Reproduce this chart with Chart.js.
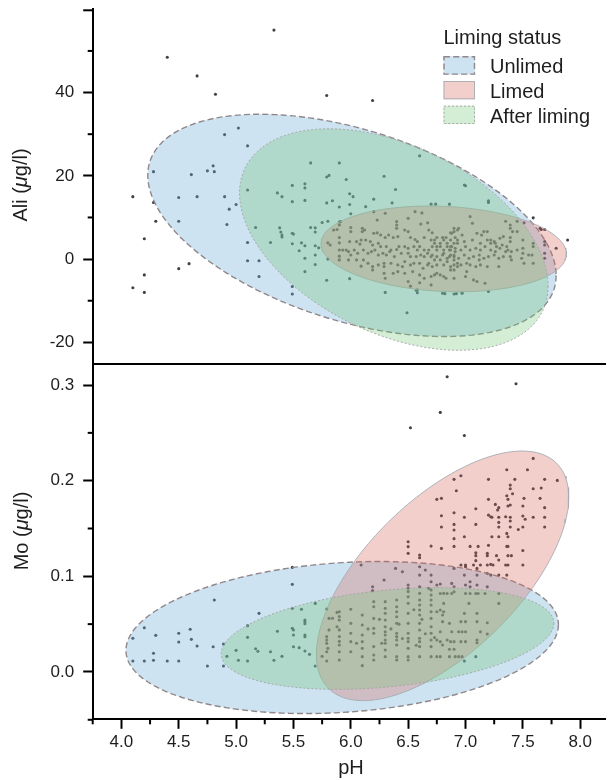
<!DOCTYPE html>
<html><head><meta charset="utf-8">
<script src="https://cdn.jsdelivr.net/npm/chart.js@4.4.1/dist/chart.umd.min.js"></script>
<style>
html,body{margin:0;padding:0;background:#fff;}
#wrap{position:relative;width:609px;height:780px;overflow:hidden;background:#fff;}
canvas{position:absolute;left:0;}
#cA{top:-16px;} #cB{top:339px;}
</style></head><body>
<div id="wrap"><canvas id="cA" width="609" height="405"></canvas><canvas id="cB" width="609" height="441"></canvas></div>
<script>
// ---------------- DATA ----------------
const groups = ['Unlimed', 'Limed', 'After liming'];
const xTicks = [4.0, 4.5, 5.0, 5.5, 6.0, 6.5, 7.0, 7.5, 8.0];
const xMinorTicks = [3.75, 4.25, 4.75, 5.25, 5.75, 6.25, 6.75, 7.25, 7.75];
const aliTicks = [-20, 0, 20, 40];
const aliMinorTicks = [-10, 10, 30, 50];
const aliEndTicks = [60];
const moTicks = [0.0, 0.1, 0.2, 0.3];
const moMinorTicks = [-0.05, 0.05, 0.15, 0.25];

// ellipse parameters: [centre pH, centre value, half-width pH, half-height value, tilt cosine]
const aliUnlimedEllipse = [6.01, 8.1, 1.78, 26.7, -0.45];
const aliLimedEllipse   = [6.81, 2.45, 1.07, 10.3, -0.12];
const aliAfterEllipse   = [6.375, 4.7, 1.345, 26.6, -0.42];
const moUnlimedEllipse  = [5.925, 0.036, 1.885, 0.0795, 0.17];
const moLimedEllipse    = [6.80, 0.1005, 1.10, 0.1305, 0.63];
const moAfterEllipse    = [6.32, 0.035, 1.45, 0.0532, 0.30];

// observations [pH, Ali]
const aliPoints = [
[5.33,55.0],[4.40,48.5],[4.66,44.0],[4.82,39.6],[5.79,39.3],[6.19,38.1],
[5.02,31.5],[4.90,29.9],[5.10,27.2],[5.65,23.1],[5.90,23.1],[6.60,24.8],
[4.80,22.4],[4.28,21.0],[4.75,21.2],[4.81,21.0],[4.61,20.3],[5.81,20.1],[5.79,19.7],[5.96,19.1],[6.29,19.9],
[4.10,15.0],[4.50,14.8],[4.66,15.0],[4.90,15.0],[5.10,16.6],[5.49,17.7],[5.60,18.1],[5.60,17.1],[5.36,15.9],[5.40,15.0],[5.49,13.8],[5.60,14.1],[5.79,13.5],[5.84,14.0],[5.90,12.5],[4.28,13.6],[4.94,12.0],[5.00,13.1],
[6.39,16.7],[7.00,17.6],[7.20,14.0],[7.20,13.6],[5.99,15.7],[6.02,15.0],[5.99,13.1],[6.13,12.6],[6.20,14.4],[6.36,13.5],[6.00,10.9],
[4.30,9.1],[4.50,9.1],[4.92,8.3],[5.17,7.6],[5.38,7.5],[5.39,6.5],[5.40,5.8],[5.40,5.3],[5.49,6.2],[5.50,6.0],[5.65,7.6],[5.69,7.5],[5.69,6.5],[5.75,8.8],[5.80,9.1],[5.90,8.9],
[4.20,4.9],[5.10,4.0],[5.30,4.0],[5.49,3.7],[5.57,3.9],[5.60,3.2],[5.55,2.0],[5.69,3.2],[5.72,2.7],[5.60,0.2],[5.69,1.0],[5.80,0.0],[5.10,-0.4],[5.20,-0.4],[5.69,-1.3],[4.50,-2.3],[4.59,-1.1],[5.20,-4.2],[5.60,-3.0],[5.79,-5.1],[4.20,-3.8],[4.10,-6.9],[4.20,-8.0],[5.49,-6.6],[5.49,-8.4],
[6.49,-12.9],[5.99,-4.7],[6.30,-8.0],[6.57,-7.5],[6.58,-8.1],[7.20,-7.8],[6.92,-8.3],[6.82,-8.3],[6.97,-8.1],
[7.59,9.9],[7.89,4.6],[7.79,2.6],[7.65,7.4],[7.66,7.1],[7.69,7.1],[7.69,4.2],[7.69,3.4],[7.69,1.4],[7.69,0.2],[7.59,3.8],[7.59,3.0],[7.51,8.7],[7.45,9.1],[6.99,17.8],
[7.00,-4.2],[7.07,-5.0],[7.10,-5.4],[7.17,-5.8],[6.90,-8.4],[6.97,-8.2],
[6.20,11.4],[6.23,9.4],[6.30,11.0],[6.50,9.8],[6.56,11.4],[6.62,11.1],[6.70,13.2],[6.74,13.2],[6.86,13.2],[6.67,8.7],[6.61,8.4],
[6.40,9.0],[6.40,8.2],[6.40,7.4],[6.10,7.4],[6.10,6.6],[6.12,7.0],[5.85,7.0],[5.88,7.1],[5.90,8.2],[5.91,9.0],[6.00,7.6],[6.00,6.6],
[6.20,6.2],[6.23,6.3],[6.26,5.8],[6.30,5.2],[6.33,5.8],[6.37,5.2],[6.41,5.4],
[6.47,7.0],[6.50,6.6],[6.52,5.2],[6.56,4.7],[6.58,4.2],[6.64,5.2],[6.68,7.0],[6.71,6.3],[6.73,4.6],[6.75,5.2],[6.80,5.2],[6.83,5.2],[6.87,6.3],[6.90,6.6],[6.91,5.2],
[5.80,3.9],[5.82,3.4],[5.90,5.2],[5.90,3.9],
[5.99,4.2],[6.05,4.2],[6.08,3.6],[6.09,4.6],[6.13,4.6],[6.17,4.2],[6.19,3.4],[6.24,3.8],[6.26,3.0],[6.31,3.0],[6.35,2.2],[6.40,2.3],[6.42,3.0],[6.47,3.0],[6.50,2.6],[6.55,3.0],[6.58,2.2],[6.60,3.0],[6.64,2.2],[6.68,2.2],[6.71,3.0],[6.75,2.2],[6.78,3.0],[6.81,2.2],[6.86,2.2],[6.88,3.0],[6.91,1.8],
[5.90,2.2],[5.93,2.2],[5.96,2.2],[5.98,1.8],[6.00,1.0],[6.03,2.2],[6.06,1.4],[6.11,2.2],[6.15,1.4],[6.18,1.8],[6.21,2.2],[6.24,1.0],[6.28,1.4],[6.31,1.0],[6.34,1.8],[6.38,0.6],[6.44,1.4],[6.50,1.4],[6.52,0.6],[6.57,0.6],[6.61,1.0],[6.64,0.6],[6.67,1.4],[6.71,1.0],[6.75,0.6],[6.80,1.0],[6.84,0.2],[6.87,1.0],[6.90,0.6],
[5.90,0.7],[5.90,-0.2],[5.98,-0.2],[6.05,-0.2],[6.11,-0.2],[6.15,-1.0],[6.19,-1.8],[6.24,-1.4],[6.29,-1.8],[6.29,-1.0],[6.35,-1.0],[6.41,-1.4],[6.45,-1.8],[6.47,-0.6],[6.52,-1.4],[6.55,-1.0],[6.60,-1.0],[6.63,-2.2],[6.68,-1.0],[6.71,-1.8],[6.75,-1.4],[6.81,-1.4],[6.87,-1.8],[6.90,-1.4],
[6.09,-1.7],[6.19,-2.6],[6.29,-3.4],[6.30,-4.6],[6.37,-3.4],[6.41,-3.0],[6.47,-3.4],[6.54,-3.0],[6.60,-3.8],[6.64,-4.6],[6.70,-4.2],[6.73,-3.8],[6.75,-3.4],[6.81,-4.2],[6.83,-4.6],[6.90,-2.6],[6.90,-4.6],
[6.50,-5.4],[6.52,-6.5],[6.58,-7.4],[6.60,-5.7],[6.70,-6.2],[6.78,-3.8],[6.80,-8.2],
[6.70,4.6],[6.73,3.8],[6.75,3.0],[6.78,3.8],[6.81,4.6],[6.84,3.8],[6.87,3.0],[6.90,3.8],[6.93,4.6],[6.70,0.6],[6.73,-0.2],[6.78,-0.2],[6.84,-0.6],[6.90,-0.2],[6.93,-1.0],[6.67,-1.4],[6.81,1.4],
[7.35,9.1],[7.39,8.2],[7.39,7.4],[7.41,6.6],[7.45,6.6],[7.39,5.2],[7.39,4.2],[7.36,3.0],[7.37,2.2],[7.40,1.8],[7.39,0.6],[7.45,2.2],[7.50,4.6],[7.50,2.6],[7.50,1.4],[7.49,0.2],[7.55,1.0],[7.58,1.0],[7.51,-1.0],[7.59,-1.0],[7.40,-0.2],[7.29,-1.8],[7.19,-1.8],[7.09,-1.8],
[6.90,7.4],[6.93,7.0],[6.94,7.4],[6.88,6.2],[6.97,5.8],[7.04,10.2],[7.06,8.6],[7.10,6.2],[7.14,5.8],[7.16,6.6],[7.19,6.6],[7.22,4.6],[7.22,3.8],[7.25,4.2],[7.27,3.0],[7.30,5.0],[7.32,3.4],[7.33,5.4],[7.12,-0.2],[7.13,-1.4],[7.01,-1.0],[7.04,-1.4],[6.96,-1.4],
[6.84,3.0],[6.87,2.2],[6.91,2.6],[6.96,2.2],[7.00,3.0],[7.04,2.2],[7.09,2.6],[7.13,2.2],[7.17,3.0],[7.22,2.2],[7.26,1.8],[7.30,2.6],[7.35,1.8],
[6.86,0.6],[6.90,1.0],[6.94,0.2],[6.99,1.0],[7.03,0.2],[7.07,0.6],[7.12,1.0],[7.16,0.2],[7.20,0.6],[7.25,1.0],[7.29,0.2],[7.33,0.6],
[6.87,4.6],[6.93,3.8],[6.99,4.2],[7.06,4.6],[7.13,3.8],[7.19,4.6],[7.26,3.8],
[6.87,-2.6],[6.93,-1.8],[7.01,-3.0]
];

// observations [pH, Mo]
const moPoints = [
[4.10,0.0352],[4.10,0.0115],[4.20,0.0463],[4.20,0.0115],[4.30,0.0383],[4.28,0.0195],[4.28,0.0122],[4.40,0.0115],[4.50,0.0404],[4.50,0.0313],[4.50,0.0115],[4.60,0.0446],[4.61,0.0341],[4.66,0.0271],[4.75,0.0062],[4.80,0.0264],[4.81,0.0752],[4.89,0.0292],[4.89,0.0062],[4.92,0.0163],[5.00,0.0226],[5.02,0.0122],[5.10,0.0484],[5.10,0.0362],[5.10,0.0115],[5.17,0.0243],[5.19,0.0216],[5.20,0.0613],[5.30,0.0212],[5.33,0.0122],[5.36,0.0425],[5.40,0.0163],[5.49,0.1093],[5.49,0.0916],[5.49,0.0665],[5.49,0.0456],[5.50,0.0439],[5.50,0.0386],[5.50,0.0264],[5.55,0.0254],[5.57,0.0655],[5.60,0.0543],[5.60,0.0526],[5.60,0.0505],[5.60,0.0386],[5.60,0.0369],[5.60,0.0219],[5.64,0.0184],[5.69,0.0717],[5.69,0.0062],[5.75,0.0163],[5.79,0.0658],[5.79,0.0369],[5.79,0.0334],[5.79,0.0299],[5.80,0.0247],[5.79,0.0212],[5.79,0.0115],[5.84,0.0561],[5.88,0.0623],[5.88,0.0473],[5.81,0.056],[5.81,0.044],
[5.90,0.063],[5.90,0.058],[5.90,0.0543],[5.90,0.044],[5.90,0.037],[5.90,0.032],[5.90,0.0282],[5.90,0.0212],[5.90,0.0125],
[6.00,0.0655],[6.00,0.0508],[6.00,0.0404],[6.00,0.0317],[6.00,0.0212],
[6.10,0.0596],[6.10,0.0491],[6.10,0.0386],[6.10,0.0317],[6.10,0.0247],[6.10,0.016],[6.10,0.0066],
[6.20,0.0735],[6.20,0.0682],[6.20,0.056],[6.20,0.0456],[6.20,0.0404],[6.20,0.0265],[6.20,0.0177],[6.20,0.0125],
[6.30,0.0735],[6.30,0.0665],[6.30,0.0613],[6.30,0.0543],[6.30,0.0473],[6.30,0.0421],[6.30,0.0386],[6.30,0.0334],[6.30,0.030],[6.30,0.023],[6.30,0.016],
[6.40,0.0752],[6.40,0.0682],[6.40,0.063],[6.40,0.0578],[6.40,0.0508],[6.40,0.0404],[6.40,0.0369],[6.40,0.0334],[6.40,0.0282],[6.40,0.016],[6.40,0.0125],
[6.50,0.084],[6.50,0.0787],[6.50,0.0718],[6.50,0.0613],[6.50,0.0508],[6.50,0.0404],[6.50,0.0352],[6.50,0.0317],[6.50,0.0247],[6.50,0.016],[6.50,0.0125],
[6.60,0.0822],[6.60,0.0752],[6.60,0.070],[6.60,0.0648],[6.60,0.0596],[6.60,0.0508],[6.60,0.0439],[6.60,0.0352],[6.60,0.0317],[6.60,0.0265],[6.60,0.016],
[6.70,0.0857],[6.70,0.0805],[6.70,0.0752],[6.70,0.070],[6.70,0.063],[6.70,0.056],[6.70,0.0473],[6.70,0.0404],[6.70,0.0334],[6.70,0.0265],[6.70,0.016],
[6.25,0.055],[6.35,0.045],[6.45,0.035],[6.55,0.065],[6.65,0.040],[6.27,0.030],[6.57,0.028],[6.73,0.036],[6.42,0.050],[6.62,0.055],[6.15,0.045],[6.05,0.030],
[6.50,0.1362],[6.50,0.131],[6.50,0.124],[6.60,0.1222],[6.60,0.1194],[6.70,0.1316],
[6.09,0.1118],[6.39,0.1083],[6.45,0.1048],[6.60,0.110],[6.60,0.1013],[6.65,0.1066],[6.70,0.1013],[6.70,0.0944],[6.29,0.0961],[6.19,0.0891],[6.19,0.085],[6.50,0.0909],[6.50,0.0874],[6.60,0.0891],[6.68,0.0874],
[6.52,0.2553],[6.84,0.3086],[7.44,0.3013],[6.78,0.2714],[6.99,0.2473],
[7.59,0.2233],[7.36,0.2115],[7.54,0.2115],[6.90,0.2014],[6.96,0.2052],[7.20,0.2014],[7.43,0.2014],[7.69,0.2014],[7.80,0.2003],[6.92,0.1895],[7.39,0.1954],[7.39,0.1916],[7.41,0.1864],[7.36,0.1843],[7.37,0.1805],[7.59,0.1916],[7.66,0.1923],[6.79,0.1815],[6.75,0.1805],[7.20,0.1805],[7.51,0.1815],[7.65,0.1815],[7.26,0.1752],[7.29,0.1718],[7.28,0.1693],[7.37,0.1735],[7.39,0.1745],[7.50,0.1735],[7.69,0.1718],[7.09,0.1707],[6.90,0.1665],[6.79,0.1634],[7.20,0.164],[7.22,0.1623],[7.23,0.1617],[7.29,0.1617],[7.35,0.1623],[7.39,0.1617],[7.39,0.1578],[7.29,0.1564],[7.29,0.1515],[7.50,0.163],[7.52,0.1596],[7.59,0.1617],[7.69,0.1617],[6.99,0.1617],[7.09,0.1543],[6.90,0.1543],[6.79,0.1515],[6.90,0.1484],[7.39,0.1515],[7.50,0.1515],[7.46,0.149],[7.69,0.1515],[7.36,0.1449],[7.37,0.1414],[7.23,0.1414],[7.29,0.1414],[6.99,0.1414],[6.90,0.1394],[6.79,0.1292],[6.90,0.1313],[7.04,0.1313],[7.11,0.1313],[7.20,0.1324],[7.36,0.1313],[7.37,0.1313],[7.50,0.127],[7.09,0.1247],[7.09,0.1216],[7.19,0.124],[7.19,0.1216],[7.27,0.1216],[7.37,0.1216],[7.40,0.1216],[7.09,0.1164],[7.29,0.117],
[6.96,0.1118],[7.00,0.1118],[7.07,0.1118],[7.13,0.1118],[7.19,0.1118],[7.22,0.1125],[7.24,0.1118],[7.35,0.1118],[7.37,0.1118],[7.50,0.1118],[7.00,0.110],
[6.99,0.1013],[7.10,0.1013],[7.19,0.103],[7.22,0.1013],[7.29,0.1013],[7.36,0.1013],[6.90,0.1083],[7.10,0.1083],
[6.75,0.091],[6.78,0.092],[6.88,0.0926],[6.90,0.089],[7.00,0.091],[7.04,0.0944],[7.04,0.089],[7.10,0.091],[7.19,0.089],
[6.78,0.082],[6.81,0.0822],[6.84,0.082],[6.88,0.082],[6.90,0.0839],[7.00,0.082],[7.04,0.082],[7.09,0.082],[7.11,0.082],[7.17,0.082],[7.29,0.082],
[6.81,0.0717],[7.03,0.0717],[7.29,0.0717],
[6.75,0.063],[6.78,0.0648],[6.81,0.063],[6.80,0.0595],[6.80,0.0526],[6.86,0.0508],[6.99,0.0613],[7.10,0.0613],[6.96,0.0526],[7.00,0.0526],[7.10,0.0526],[7.19,0.0515],
[6.78,0.042],[6.88,0.042],[6.94,0.042],[6.97,0.042],[7.00,0.042],[7.13,0.042],[7.19,0.0397],
[6.75,0.0334],[6.78,0.0317],[6.80,0.0282],[6.84,0.0334],[6.87,0.0317],[6.90,0.0317],[6.96,0.0317],[7.00,0.0317],[7.10,0.0334],[7.10,0.0306],
[6.86,0.0237],[6.90,0.0237],
[6.75,0.016],[6.78,0.016],[6.86,0.016],[6.91,0.016],[6.94,0.016],[6.97,0.016],[7.09,0.016],[6.99,0.0115]
];

// ---------------- STYLE ----------------
const FONT = '"Liberation Sans", Arial, Helvetica, sans-serif';
const TXT = '#1e1e1e';
const X_MIN = 3.75, X_MAX = 8.216;
const groupStyle = {
  'Unlimed':      {fill: 'rgba(107,174,214,0.34)', line: 'rgba(140,130,132,0.95)', width: 1.4, dash: [6, 3.2]},
  'Limed':        {fill: 'rgba(215,95,85,0.30)',   line: 'rgba(165,172,178,0.9)',  width: 1.0, dash: []},
  'After liming': {fill: 'rgba(116,196,118,0.31)', line: 'rgba(165,165,165,0.95)', width: 1.0, dash: [2, 2]}
};
const POINT_COLOR = 'rgb(62,66,72)';

function ellipseOutline(p) {
  const [cx, cy, rx, ry, c] = p;
  const d = Math.acos(c);
  const out = [];
  const N = 180;
  for (let i = 0; i <= N; i++) {
    const t = 2 * Math.PI * i / N;
    out.push({x: cx + rx * Math.cos(t), y: cy + ry * Math.cos(t + d)});
  }
  return out;
}
function ellipseDataset(name, params, order) {
  const s = groupStyle[name];
  return {type: 'line', label: name, data: ellipseOutline(params), pointRadius: 0, pointHoverRadius: 0,
    borderColor: s.line, borderWidth: s.width, borderDash: s.dash, backgroundColor: s.fill,
    fill: 'shape', tension: 0, order: order};
}
function pointDataset(arr) {
  return {type: 'scatter', label: 'obs', data: arr.map(([x, y]) => ({x, y})), pointRadius: 1.55,
    pointBorderWidth: 0, pointBackgroundColor: POINT_COLOR, order: 5};
}

const minorTicksPlugin = {
  id: 'minorTicks',
  afterDraw(chart, args, o) {
    const ctx = chart.ctx, a = chart.chartArea;
    ctx.save(); ctx.strokeStyle = '#000'; ctx.lineWidth = 2;
    (o.y || []).forEach(v => { const p = chart.scales.y.getPixelForValue(v); ctx.beginPath(); ctx.moveTo(a.left - o.minorLen, p); ctx.lineTo(a.left, p); ctx.stroke(); });
    (o.yEnd || []).forEach(v => { const p = chart.scales.y.getPixelForValue(v) + 1; ctx.beginPath(); ctx.moveTo(a.left - o.majorLen, p); ctx.lineTo(a.left, p); ctx.stroke(); });
    (o.x || []).forEach(v => { const p = chart.scales.x.getPixelForValue(v); ctx.beginPath(); ctx.moveTo(p, a.bottom); ctx.lineTo(p, a.bottom + o.minorLen); ctx.stroke(); });
    ctx.restore();
  }
};
function drawRich(ctx, parts, cx, cy, rot) {
  ctx.save(); ctx.translate(cx, cy); ctx.rotate(rot);
  let total = 0;
  const w = parts.map(p => { ctx.font = p.font; const m = ctx.measureText(p.text).width; total += m; return m; });
  let x = -total / 2; ctx.textBaseline = 'middle'; ctx.textAlign = 'left'; ctx.fillStyle = TXT;
  parts.forEach((p, i) => { ctx.font = p.font; ctx.fillText(p.text, x, 0); x += w[i]; });
  ctx.restore();
}
const titlesPlugin = {
  id: 'axisTitles',
  afterDraw(chart, args, o) {
    (o.items || []).forEach(it => drawRich(chart.ctx, it.parts, it.x, it.y, it.rot || 0));
  }
};
const legendPlugin = {
  id: 'ellipseLegend',
  afterDraw(chart, args, o) {
    if (!o.show) return;
    const ctx = chart.ctx; ctx.save();
    ctx.font = '20px ' + FONT; ctx.fillStyle = TXT; ctx.textBaseline = 'alphabetic'; ctx.textAlign = 'left';
    ctx.fillText(o.title, o.x, o.titleY);
    o.labels.forEach((name, i) => {
      const s = groupStyle[name];
      const top = o.boxTop + i * o.step;
      ctx.fillStyle = '#fff'; ctx.fillRect(o.x, top, o.boxW, o.boxH);
      ctx.fillStyle = s.fill; ctx.fillRect(o.x, top, o.boxW, o.boxH);
      ctx.strokeStyle = s.line; ctx.lineWidth = s.width; ctx.setLineDash(s.dash);
      ctx.strokeRect(o.x + 0.5, top + 0.5, o.boxW - 1, o.boxH - 1);
      ctx.setLineDash([]);
      ctx.fillStyle = TXT; ctx.font = '20px ' + FONT;
      ctx.fillText(name, o.textX, top + o.boxH - 1.5);
    });
    ctx.restore();
  }
};

const tickFont = {family: FONT, size: 17};
const yGrid = {display: true, drawOnChartArea: false, drawTicks: true, tickLength: 9.5, tickWidth: 2, tickColor: '#000'};
const border = {display: true, color: '#000', width: 2};
const normal = '20px ' + FONT, ital = 'italic 20px ' + FONT;

// ---------------- TOP PANEL ----------------
new Chart(document.getElementById('cA'), {
  type: 'scatter',
  data: {datasets: [
    pointDataset(aliPoints),
    ellipseDataset('Unlimed', aliUnlimedEllipse, 3),
    ellipseDataset('Limed', aliLimedEllipse, 2),
    ellipseDataset('After liming', aliAfterEllipse, 1)
  ]},
  options: {
    responsive: false, animation: false, devicePixelRatio: 1,
    layout: {padding: {top: 25.3, bottom: 25, left: 0, right: 0}},
    plugins: {
      legend: {display: false}, tooltip: {enabled: false},
      minorTicks: {y: aliMinorTicks, yEnd: aliEndTicks, minorLen: 5, majorLen: 9.5},
      axisTitles: {items: [{parts: [{text: 'Ali (', font: normal}, {text: 'μ', font: ital}, {text: 'g/l)', font: normal}], x: 21.5, y: 201, rot: -Math.PI / 2}]},
      ellipseLegend: {show: true, title: 'Liming status', labels: groups, x: 443.5, titleY: 60,
        boxTop: 72.3, step: 24.7, boxW: 31.5, boxH: 18.3, textX: 490}
    },
    scales: {
      x: {type: 'linear', min: X_MIN, max: X_MAX, position: 'bottom',
        ticks: {display: false}, grid: {display: false}, border: border,
        afterFit: s => { s.height = 0; }},
      y: {type: 'linear', min: -25.2, max: 60, position: 'left',
        afterBuildTicks: s => { s.ticks = aliTicks.map(v => ({value: v})); },
        afterFit: s => { s.width = 92.7; },
        ticks: {font: tickFont, color: TXT, padding: 9, callback: v => String(v)},
        grid: yGrid, border: border}
    }
  },
  plugins: [minorTicksPlugin, titlesPlugin, legendPlugin]
});

// ---------------- BOTTOM PANEL ----------------
new Chart(document.getElementById('cB'), {
  type: 'scatter',
  data: {datasets: [
    pointDataset(moPoints),
    ellipseDataset('Unlimed', moUnlimedEllipse, 3),
    ellipseDataset('Limed', moLimedEllipse, 2),
    ellipseDataset('After liming', moAfterEllipse, 1)
  ]},
  options: {
    responsive: false, animation: false, devicePixelRatio: 1,
    layout: {padding: {top: 25, bottom: 0, left: 0, right: 0}},
    plugins: {
      legend: {display: false}, tooltip: {enabled: false},
      minorTicks: {y: moMinorTicks, x: xMinorTicks, minorLen: 5, majorLen: 9.5},
      axisTitles: {items: [
        {parts: [{text: 'Mo (', font: normal}, {text: 'μ', font: ital}, {text: 'g/l)', font: normal}], x: 22, y: 192, rot: -Math.PI / 2},
        {parts: [{text: 'pH', font: normal}], x: 351, y: 429, rot: 0}
      ]}
    },
    scales: {
      x: {type: 'linear', min: X_MIN, max: X_MAX, position: 'bottom',
        afterBuildTicks: s => { s.ticks = xTicks.map(v => ({value: v})); },
        afterFit: s => { s.height = 60.7; },
        ticks: {font: tickFont, color: TXT, padding: 3, maxRotation: 0, autoSkip: false, callback: v => Number(v).toFixed(1)},
        grid: yGrid, border: border},
      y: {type: 'linear', min: -0.0495, max: 0.322, position: 'left',
        afterBuildTicks: s => { s.ticks = moTicks.map(v => ({value: v})); },
        afterFit: s => { s.width = 92.7; },
        ticks: {font: tickFont, color: TXT, padding: 9, callback: v => Number(v).toFixed(1)},
        grid: yGrid, border: border}
    }
  },
  plugins: [minorTicksPlugin, titlesPlugin]
});
</script></body></html>
